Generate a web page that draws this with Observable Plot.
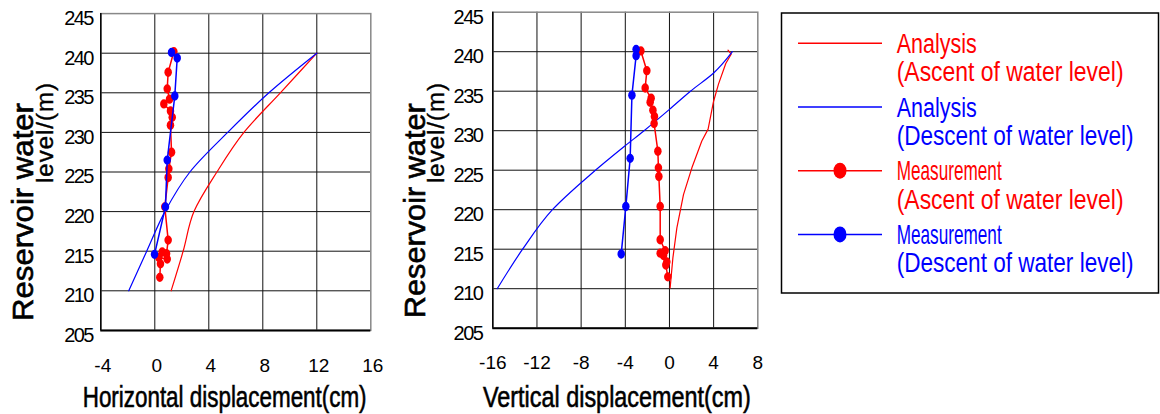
<!DOCTYPE html>
<html><head><meta charset="utf-8">
<script src="https://cdn.jsdelivr.net/npm/d3@7"></script>
<script src="https://cdn.jsdelivr.net/npm/@observablehq/plot@0.6"></script>
<style>
body{margin:0;background:#fff;}
#wrap{position:relative;width:1160px;height:414px;overflow:hidden;background:#fff;}
#wrap > svg{position:absolute;top:0;}
</style></head><body><div id="wrap"></div>
<script>
// ---------- data ----------
const yTicks = [205, 210, 215, 220, 225, 230, 235, 240, 245];
const yGrid = [210, 215, 220, 225, 230, 235, 240];
const hTicks = [-4, 0, 4, 8, 12, 16];
const vTicks = [-16, -12, -8, -4, 0, 4, 8];

// Horizontal displacement panel
const hAnaUpX = [1.21, 2.1, 2.9, 4.6, 6.6, 9.3, 12.0];
const hAnaUpY = [210, 215, 220, 225, 230, 235, 240];
const hAnaDownX = [-1.93, -0.6, 0.75, 2.6, 5.4, 8.45, 12.0];
const hAnaDownY = [210, 215, 220, 225, 230, 235, 240];
const hMeasUpX = [0.37, 0.42, 0.3, 0.92, 0.55, 0.87, 0.99, 0.74, 0.99, 1.04, 1.24, 1.16, 1.29, 1.16, 0.67, 1.09, 0.92, 0.99, 1.41];
const hMeasUpY = [211.7, 213.4, 214.2, 214.0, 214.9, 214.7, 216.4, 220.6, 224.3, 225.4, 227.5, 230.9, 231.9, 232.7, 233.6, 234.2, 235.5, 237.6, 240.2];
const hMeasDownX = [1.24, 1.66, 1.48, 0.92, 0.79, -0.02];
const hMeasDownY = [240.1, 239.4, 234.6, 226.5, 220.6, 214.6];

// Vertical displacement panel
const vAnaUpX = [0.06, 0.31, 0.67, 1.27, 2.03, 2.93, 3.5, 3.99, 4.44, 5.1, 5.6, 5.3];
const vAnaUpY = [210.1, 213.9, 217.7, 221.9, 225.3, 228.7, 230.2, 233.7, 235.9, 238.5, 239.7, 240.2];
const vAnaDownX = [-15.6, -13.3, -10.6, -7.2, -4.1, -2.3, 0, 1.9, 4.0, 5.7];
const vAnaDownY = [210, 215, 220, 224.4, 228, 230, 232.7, 235, 237.3, 240];
const vMeasUpX = [-0.15, -0.33, -0.24, -0.54, -0.84, -0.39, -0.84, -0.84, -0.96, -1.0, -1.05, -1.39, -1.36, -1.5, -1.75, -1.66, -2.2, -2.05, -2.59];
const vMeasUpY = [211.5, 213.0, 213.4, 214.2, 214.5, 214.8, 216.2, 220.4, 224.2, 225.3, 227.4, 230.9, 231.8, 232.6, 233.6, 234.1, 235.4, 237.6, 240.1];
const vMeasDownX = [-3.02, -3.02, -3.4, -3.56, -3.95, -4.37];
const vMeasDownY = [240.3, 239.5, 234.5, 226.5, 220.4, 214.4];

const yTitle1 = "Reservoir water";
const yTitle2 = "level/(m)";
const hTitle = "Horizontal displacement(cm)";
const vTitle = "Vertical displacement(cm)";
const legendLine1 = ["Analysis", "Analysis", "Measurement", "Measurement"];
const legendLine2 = ["(Ascent of water level)", "(Descent of water level)", "(Ascent of water level)", "(Descent of water level)"];
const legendColors = ["#ff0000", "#0000ff", "#ff0000", "#0000ff"];
const legendHasDot = [false, false, true, true];

// ---------- helpers ----------
const RED = "#ff0000", BLUE = "#0000ff";
const FONT = "'Liberation Sans', Arial, Helvetica, sans-serif";
const zip = (xs, ys) => xs.map((x, i) => ({x, y: ys[i]}));
const ellipse = {
  draw(ctx, size) {
    const r = Math.sqrt(size / Math.PI), rx = r * 0.8, ry = r, k = 0.5523;
    ctx.moveTo(rx, 0);
    ctx.bezierCurveTo(rx, ry * k, rx * k, ry, 0, ry);
    ctx.bezierCurveTo(-rx * k, ry, -rx, ry * k, -rx, 0);
    ctx.bezierCurveTo(-rx, -ry * k, -rx * k, -ry, 0, -ry);
    ctx.bezierCurveTo(rx * k, -ry, rx, -ry * k, rx, 0);
    ctx.closePath();
  }
};
// text squeezed horizontally to an exact width (uses a real transform so its box is right)
function fitText(parent, text, {x, y, size, width, anchor = "start", rotate = 0, fill = "#000", heavy = 0}) {
  const t = parent.append("text").attr("font-size", size).attr("fill", fill)
    .attr("text-anchor", anchor).text(text);
  if (heavy) t.attr("stroke", fill).attr("stroke-width", heavy);
  const natural = t.node().getComputedTextLength() || width;
  const k = width / natural;
  t.attr("transform", `translate(${x},${y})${rotate ? ` rotate(${rotate})` : ""} scale(${k},1)`);
  return t;
}

function panel(o) {
  const svg = Plot.plot({
    width: 390, height: 414,
    marginLeft: o.ml, marginRight: o.mr, marginTop: o.mt, marginBottom: o.mb,
    style: {fontFamily: FONT, background: "#fff", color: "#000"},
    x: {domain: o.xDomain},
    y: {domain: [205, 245]},
    marks: [
      Plot.gridX({ticks: o.xGrid, stroke: "#111", strokeOpacity: 1, strokeWidth: 1}),
      Plot.gridY({ticks: yGrid, stroke: "#111", strokeOpacity: 1, strokeWidth: 1}),
      Plot.frame({stroke: "#888", strokeWidth: 1.5}),
      Plot.ruleX([o.xDomain[0]], {stroke: "#000", strokeWidth: 1.5}),
      Plot.ruleY([205], {stroke: "#000", strokeWidth: 2}),
      Plot.line(o.anaUp, {x: "x", y: "y", stroke: RED, strokeWidth: 1.2, curve: o.upCurve}),
      Plot.line(o.anaDown, {x: "x", y: "y", stroke: BLUE, strokeWidth: 1.2, curve: "monotone-y"}),
      Plot.line(o.measUp, {x: "x", y: "y", stroke: RED, strokeWidth: 1.5}),
      Plot.dot(o.measUp, {x: "x", y: "y", fill: RED, stroke: "none", symbol: ellipse, r: 4.7}),
      Plot.line(o.measDown, {x: "x", y: "y", stroke: BLUE, strokeWidth: 1.5}),
      Plot.dot(o.measDown, {x: "x", y: "y", fill: BLUE, stroke: "none", symbol: ellipse, r: 4.7}),
      Plot.axisX({ticks: o.xTicks, label: null, tickSize: 0, tickPadding: o.padX, fontSize: 19, dx: o.dxX, tickFormat: d => String(d)}),
      Plot.axisY({ticks: yTicks, label: null, tickSize: 0, tickPadding: o.padY, fontSize: 20, dy: 5, tickFormat: d => String(d)})
    ]
  });
  return svg;
}
function decorate(svg, o) {
  const s = d3.select(svg);
  s.selectAll('g[aria-label="y-axis tick label"] text').attr("letter-spacing", "-1.6px");
  fitText(s, o.xt.text, {x: o.xt.x, y: 406.7, size: 30, width: o.xt.len, heavy: 0.6});
  fitText(s, yTitle1, {x: o.yt1.x, y: o.yt1.cy, size: 30, width: o.yt1.len, anchor: "middle", rotate: -90, heavy: 0.6});
  s.append("text").attr("transform", `translate(${o.yt2.x},${o.yt2.y0}) rotate(-90)`)
    .attr("text-anchor", "start").attr("font-size", 24).attr("fill", "#000")
    .attr("stroke", "#000").attr("stroke-width", 0.4)
    .attr("letter-spacing", "1px").text(yTitle2);
}

const wrap = document.getElementById("wrap");

const leftOpts = {
  ml: 100.3, mr: 19.7, mt: 13.1, mb: 84.1,
  xDomain: [-4, 16], xGrid: [0, 4, 8, 12], xTicks: hTicks, padX: 28, padY: 8, dxX: 2,
  anaUp: zip(hAnaUpX, hAnaUpY), anaDown: zip(hAnaDownX, hAnaDownY), upCurve: "monotone-y",
  measUp: zip(hMeasUpX, hMeasUpY), measDown: zip(hMeasDownX, hMeasDownY),
  xt: {x: 82.7, len: 284, text: hTitle},
  yt1: {x: 33.3, cy: 212, len: 218},
  yt2: {x: 53.3, y0: 183}
};
const left = panel(leftOpts);
left.style.left = "0px";
wrap.appendChild(left);
decorate(left, leftOpts);

const rightOpts = {
  ml: 102.3, mr: 22.7, mt: 11.7, mb: 86.3,
  xDomain: [-16, 8], xGrid: [-12, -8, -4, 0, 4], xTicks: vTicks, padX: 27.3, padY: 10.6, dxX: 0,
  anaUp: zip(vAnaUpX, vAnaUpY), anaDown: zip(vAnaDownX, vAnaDownY), upCurve: "linear",
  measUp: zip(vMeasUpX, vMeasUpY), measDown: zip(vMeasDownX, vMeasDownY),
  xt: {x: 93, len: 268, text: vTitle},
  yt1: {x: 35, cy: 210.7, len: 215},
  yt2: {x: 54, y0: 183}
};
const right = panel(rightOpts);
right.style.left = "390px";
wrap.appendChild(right);
decorate(right, rightOpts);

// ---------- legend ----------
const lg = d3.select(wrap).append("svg").attr("width", 380).attr("height", 414)
  .style("left", "780px").style("font-family", FONT);
lg.append("rect").attr("x", 1.5).attr("y", 13).attr("width", 377).attr("height", 280)
  .attr("fill", "none").attr("stroke", "#000").attr("stroke-width", 1.5);
const len1 = {"Analysis": 80, "Measurement": 105};
const len2 = {"(Ascent of water level)": 227, "(Descent of water level)": 237};
legendLine1.forEach((t, i) => {
  const ly = 43.3 + i * 63.7, c = legendColors[i];
  lg.append("line").attr("x1", 18).attr("x2", 102).attr("y1", ly).attr("y2", ly)
    .attr("stroke", c).attr("stroke-width", 1.5);
  if (legendHasDot[i]) lg.append("ellipse").attr("cx", 60).attr("cy", ly).attr("rx", 6.5).attr("ry", 8).attr("fill", c);
  fitText(lg, t, {x: 116.7, y: ly + 9.7, size: 28, width: len1[t], fill: c});
  fitText(lg, legendLine2[i], {x: 116.7, y: ly + 38, size: 28, width: len2[legendLine2[i]], fill: c});
});
</script></body></html>
